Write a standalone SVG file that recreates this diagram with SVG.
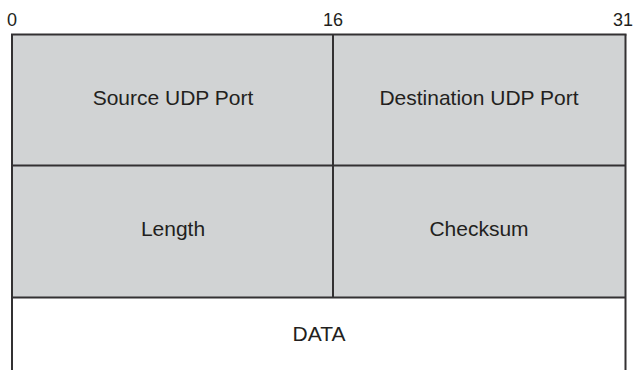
<svg xmlns="http://www.w3.org/2000/svg" width="636" height="370" viewBox="0 0 636 370">
<style>
.cell{fill:#d1d3d4;stroke:none}
.ln{stroke:#333132;stroke-width:2;fill:none}
.t{font-family:"Liberation Sans",Arial,sans-serif;font-size:21px;fill:#231f20;text-anchor:middle}
.n{font-family:"Liberation Sans",Arial,sans-serif;font-size:18px;fill:#231f20;text-anchor:middle}
</style>
<rect width="636" height="370" fill="#ffffff"/>
<g id="scale">
<text class="n" x="12" y="26">0</text>
<text class="n" x="333" y="26">16</text>
<text class="n" x="623" y="26">31</text>
</g>
<g id="source-port">
<rect class="cell" x="12" y="34.5" width="321" height="131"/>
<text class="t" x="173" y="105">Source UDP Port</text>
</g>
<g id="destination-port">
<rect class="cell" x="333" y="34.5" width="292.5" height="131"/>
<text class="t" x="479" y="105">Destination UDP Port</text>
</g>
<g id="length">
<rect class="cell" x="12" y="165.5" width="321" height="132"/>
<text class="t" x="173" y="236">Length</text>
</g>
<g id="checksum">
<rect class="cell" x="333" y="165.5" width="292.5" height="132"/>
<text class="t" x="479" y="236">Checksum</text>
</g>
<g id="data">
<text class="t" x="319" y="341">DATA</text>
</g>
<g id="lines">
<line class="ln" x1="11" y1="34.5" x2="626.5" y2="34.5"/>
<line class="ln" x1="12" y1="34.5" x2="12" y2="370"/>
<line class="ln" x1="625.5" y1="34.5" x2="625.5" y2="370"/>
<line class="ln" x1="333" y1="34.5" x2="333" y2="297.5"/>
<line class="ln" x1="12" y1="165.5" x2="625.5" y2="165.5"/>
<line class="ln" x1="12" y1="297.5" x2="625.5" y2="297.5"/>
</g>
</svg>
